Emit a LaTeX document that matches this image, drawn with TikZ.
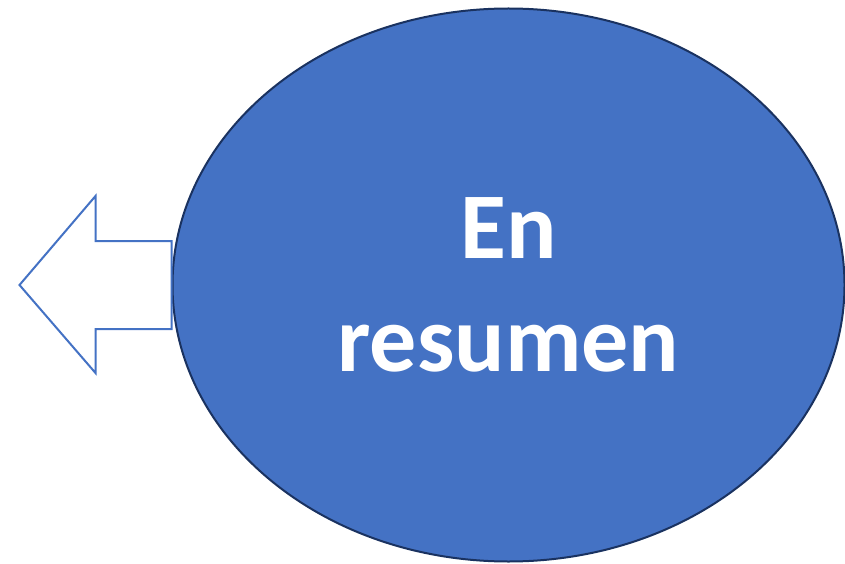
\documentclass[tikz,border=0pt]{standalone}
\usepackage{fontspec}
\setmainfont{Carlito}
\usetikzlibrary{shapes.geometric}

\definecolor{ovalblue}{HTML}{4472C4}
\definecolor{ovaledge}{HTML}{1A3260}

\tikzset{
  oval/.style={ellipse,draw=ovaledge,fill=ovalblue,line width=2pt,
    minimum width=672pt,minimum height=553pt,inner sep=0pt,
    text=white,align=center,font=\fontsize{94}{113}\selectfont\bfseries},
  arrowbox/.style={draw=ovalblue,fill=white,line width=2pt,line join=miter}
}

\begin{document}
\begin{tikzpicture}[x=1pt,y=1pt]
    \useasboundingbox (0,0) rectangle (845,563);
    \node[oval] (res) at (508.5,278) {En\\resumen};

    \draw[arrowbox] (res.west) ++(0,44) -- ++(-76,0) -- ++(0,45)
        -- ++(-76,-89) -- ++(76,-88) -- ++(0,44) -- ++(76,0) -- cycle;
\end{tikzpicture}
\end{document}
